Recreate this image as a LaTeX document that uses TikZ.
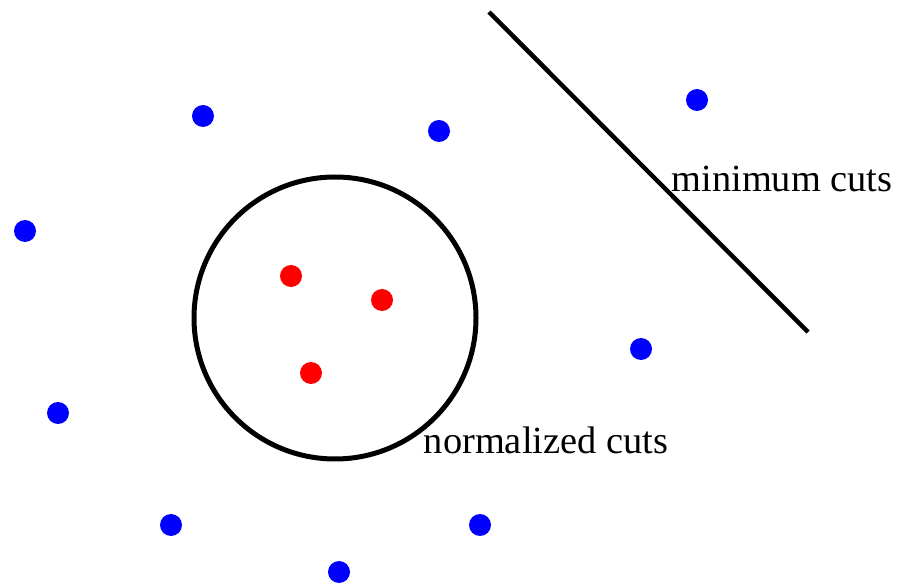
\documentclass[tikz,border=0pt]{standalone}
\usepackage{fontspec}
\setmainfont{Liberation Serif}
\begin{document}
\begin{tikzpicture}[x=1pt,y=-1pt,
  bluedot/.style={circle,fill=blue,inner sep=0pt,minimum size=22pt},
  reddot/.style={circle,fill=red,inner sep=0pt,minimum size=22pt},
  cut/.style={line width=5pt,black},
  lbl/.style={font=\fontsize{38.4}{46}\selectfont,inner sep=0pt}]
\useasboundingbox (0,0) rectangle (898,585);
\node[bluedot] (b1) at (203,116) {};
\node[bluedot] (b2) at (439,131) {};
\node[bluedot] (b3) at (697,100) {};
\node[bluedot] (b4) at (25,231) {};
\node[bluedot] (b5) at (641,349) {};
\node[bluedot] (b6) at (58,413) {};
\node[bluedot] (b7) at (171,525) {};
\node[bluedot] (b8) at (480,525) {};
\node[bluedot] (b9) at (339,572) {};
\node[reddot] (r1) at (291,276) {};
\node[reddot] (r2) at (382,300) {};
\node[reddot] (r3) at (311,373) {};
\draw[cut] (335,318) circle (141);
\coordinate (l1) at (489,12);
\coordinate (l2) at (808,332);
\draw[cut,line width=4.5pt] (l1) -- (l2);
\node[lbl] (mc) at (782,179) {minimum cuts};
\node[lbl] (nc) at (546,440) {normalized cuts};
\end{tikzpicture}
\end{document}
